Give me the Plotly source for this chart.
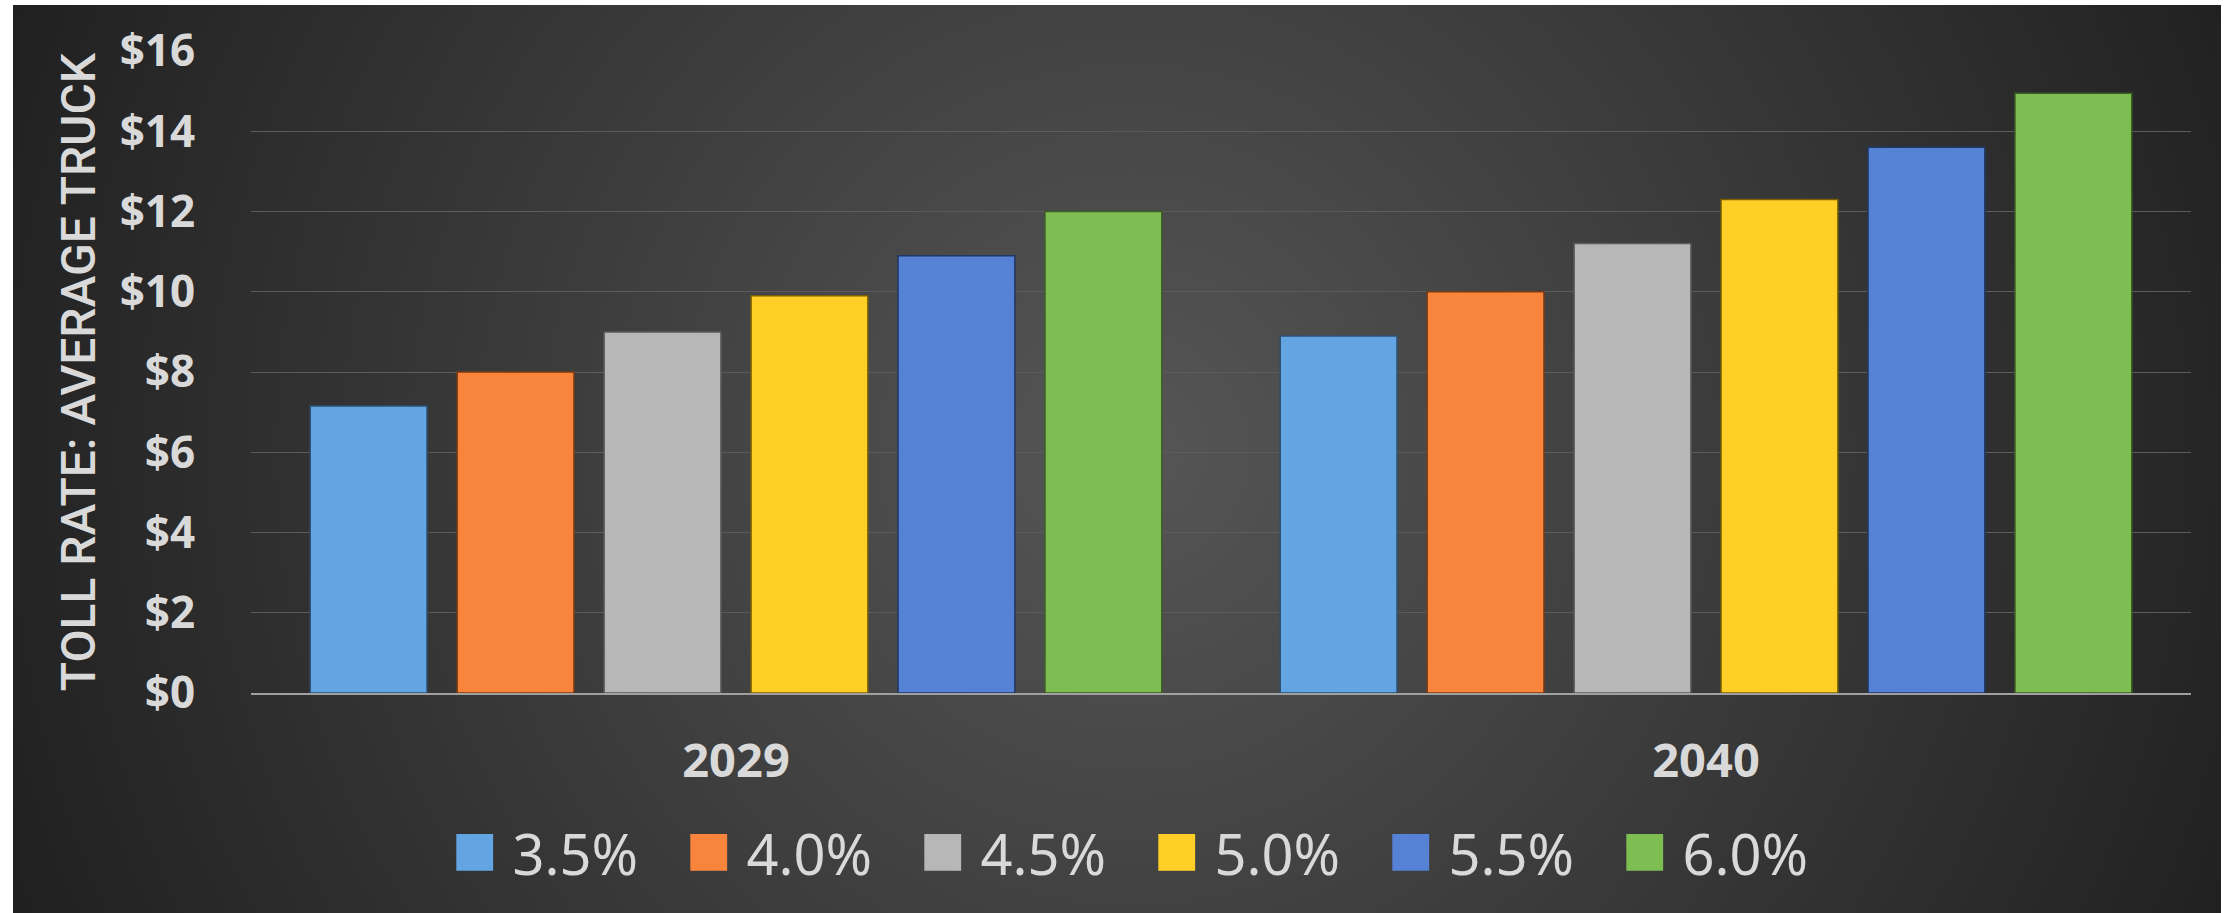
import base64
import struct
import zlib

import numpy as np
import plotly.graph_objects as go

# ---------------- data ----------------
years = ["2029", "2040"]
rates = ["3.5%", "4.0%", "4.5%", "5.0%", "5.5%", "6.0%"]
toll_2029 = [7.15, 8.0, 9.0, 9.9, 10.9, 12.0]
toll_2040 = [8.9, 10.0, 11.2, 12.3, 13.6, 14.95]
y_tick_vals = [0, 2, 4, 6, 8, 10, 12, 14, 16]
y_tick_text = ["$0", "$2", "$4", "$6", "$8", "$10", "$12", "$14", "$16"]
y_title = "TOLL RATE: AVERAGE TRUCK"

# ---------------- style ----------------
bar_colors = ["#62a5e2", "#f9853d", "#b7b7b7", "#ffcf27", "#5682d6", "#7dbd52"]
edge_colors = ["#2c4f70", "#7a3a12", "#5a5a5a", "#7a6000", "#1f3766", "#3b5e22"]
text_color = "#d9d9d9"

W, H = 2233, 913
ML, MR, MT, MB = 251, 42, 51, 220
PW, PH = W - ML - MR, H - MT - MB

# dark backdrop (radial gradient) extents in page pixels
BX0, BY0, BX1, BY1 = 13, 5, 2221, 913


def gradient_png_uri(w, h, cx, cy, radius, inner, outer):
    yy, xx = np.mgrid[0:h, 0:w]
    d = np.sqrt((xx + 0.5 - cx) ** 2 + (yy + 0.5 - cy) ** 2) / radius
    d = np.clip(d, 0, 1)
    v = inner + (outer - inner) * d
    img = np.clip(np.round(v), 0, 255).astype(np.uint8)
    raw = b"".join(b"\x00" + img[r].tobytes() for r in range(h))

    def chunk(t, data):
        c = struct.pack(">I", len(data)) + t + data
        return c + struct.pack(">I", zlib.crc32(t + data) & 0xFFFFFFFF)

    png = (
        b"\x89PNG\r\n\x1a\n"
        + chunk(b"IHDR", struct.pack(">IIBBBBB", w, h, 8, 0, 0, 0, 0))
        + chunk(b"IDAT", zlib.compress(raw, 9))
        + chunk(b"IEND", b"")
    )
    return "data:image/png;base64," + base64.b64encode(png).decode()


S = 4  # downscale of gradient image
gw, gh = (BX1 - BX0) // S, (BY1 - BY0) // S
bg_uri = gradient_png_uri(gw, gh, (1130 - BX0) / S, (450 - BY0) / S, 1250 / S, 86, 30)

fig = go.Figure()

for i, r in enumerate(rates):
    fig.add_trace(
        go.Bar(
            x=years,
            y=[toll_2029[i], toll_2040[i]],
            name=r,
            marker=dict(color=bar_colors[i], line=dict(color=edge_colors[i], width=1.5)),
            showlegend=False,
            legendgroup=r,
        )
    )

# legend entries with large square swatches
for i, r in enumerate(rates):
    fig.add_trace(
        go.Scatter(
            x=[None],
            y=[None],
            mode="none",
            name=f'<span style="color:{bar_colors[i]};font-size:76px">■</span> {r}',
            legendgroup=r,
            showlegend=True,
        )
    )

fig.update_layout(
    template="none",
    width=W,
    height=H,
    margin=dict(l=ML, r=MR, t=MT, b=MB, pad=0),
    paper_bgcolor="white",
    plot_bgcolor="rgba(0,0,0,0)",
    barmode="group",
    bargap=0.091,
    bargroupgap=0.205,
    images=[
        dict(
            source=bg_uri,
            xref="paper",
            yref="paper",
            x=(BX0 - ML) / PW,
            y=(H - MB - BY0) / PH,
            sizex=(BX1 - BX0) / PW,
            sizey=(BY1 - BY0) / PH,
            xanchor="left",
            yanchor="top",
            sizing="stretch",
            layer="below",
        )
    ],
    xaxis=dict(
        type="category",
        automargin=False,
        showgrid=False,
        zeroline=False,
        showline=True,
        linecolor="#a0a0a0",
        linewidth=2,
        ticks="outside",
        ticklen=26,
        tickcolor="rgba(0,0,0,0)",
        tickfont=dict(family="Noto Sans", size=47, color=text_color, weight="bold"),
        fixedrange=True,
    ),
    yaxis=dict(
        automargin=False,
        range=[0, 16],
        tickvals=y_tick_vals,
        ticktext=y_tick_text,
        showgrid=True,
        gridcolor="#5c5c5c",
        gridwidth=1,
        zeroline=False,
        showline=False,
        ticks="outside",
        ticklen=46,
        tickcolor="rgba(0,0,0,0)",
        tickfont=dict(family="Noto Sans", size=44, color=text_color, weight="bold"),
        title=dict(
            text=y_title,
            font=dict(family="Roboto", size=48, color=text_color, weight=500),
            standoff=8,
        ),
        fixedrange=True,
    ),
    legend=dict(
        orientation="h",
        xref="container",
        yref="container",
        x=412 / W,
        y=(H - 853) / H,
        xanchor="left",
        yanchor="middle",
        font=dict(family="Noto Sans", size=56, color=text_color),
        bgcolor="rgba(0,0,0,0)",
        itemwidth=30,
        entrywidth=189,
        entrywidthmode="pixels",
        traceorder="normal",
    ),
)

fig.write_html("out.html", config={"displayModeBar": False})
